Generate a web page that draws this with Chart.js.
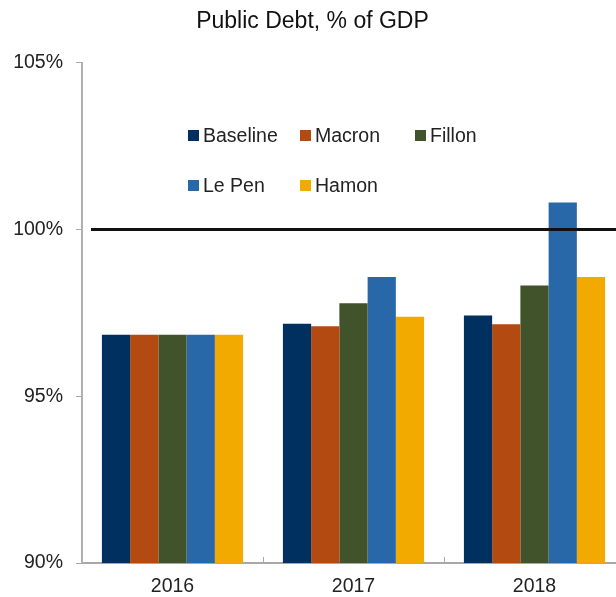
<!DOCTYPE html>
<html>
<head>
<meta charset="utf-8">
<script src="https://cdn.jsdelivr.net/npm/chart.js@4"></script>
<style>
  html, body { margin: 0; padding: 0; overflow: hidden; background: #fff; }
  #wrap { position: relative; width: 630px; height: 597px; }
  .leg { position: absolute; font-family: "Liberation Sans", Arial, sans-serif; font-size: 19.5px; color: #222; white-space: nowrap; line-height: 24px; }
  .leg span { display: inline-block; width: 11px; height: 11px; margin-right: 4px; vertical-align: 1px; }
</style>
</head>
<body>
<div id="wrap">
  <canvas id="myChart" width="630" height="597"></canvas>
</div>
<script>
var years = ["2016", "2017", "2018"];
var seriesNames = ["Baseline", "Macron", "Fillon", "Le Pen", "Hamon"];
var baseline = [96.84, 97.17, 97.42];
var macron = [96.84, 97.10, 97.16];
var fillon = [96.84, 97.79, 98.32];
var lePen = [96.84, 98.57, 100.81];
var hamon = [96.84, 97.38, 98.57];
var yTicks = [90, 95, 100, 105];
var refLine = 100;

var colors = ["#00305f", "#b34a11", "#40532a", "#2868a8", "#f2aa00"];
var values = [baseline, macron, fillon, lePen, hamon];

// legend positions inside the plot (two rows, like the original)
var legendPos = [[188, 123], [300, 123], [415, 123], [188, 173], [300, 173]];
seriesNames.forEach(function (name, i) {
    var d = document.createElement("div");
    d.className = "leg";
    d.style.left = legendPos[i][0] + "px";
    d.style.top = legendPos[i][1] + "px";
    d.innerHTML = '<span style="background:' + colors[i] + '"></span>' + name;
    document.getElementById("wrap").appendChild(d);
});

var extras = {
    id: "extras",
    afterDatasetsDraw: function (chart) {
        var ctx = chart.ctx, x = chart.scales.x, y = chart.scales.y;
        // 100% reference line
        var py = y.getPixelForValue(refLine);
        ctx.save();
        ctx.strokeStyle = "#111";
        ctx.lineWidth = 3;
        ctx.beginPath();
        ctx.moveTo(91, py);
        ctx.lineTo(chart.chartArea.right, py);
        ctx.stroke();
        // small x ticks between categories, pointing up
        ctx.strokeStyle = "#a8a8a8";
        ctx.lineWidth = 1;
        for (var i = 1; i < years.length; i++) {
            var px = Math.round((x.getPixelForValue(i - 1) + x.getPixelForValue(i)) / 2) + 0.5;
            ctx.beginPath();
            ctx.moveTo(px, chart.chartArea.bottom);
            ctx.lineTo(px, chart.chartArea.bottom - 6);
            ctx.stroke();
        }
        ctx.restore();
    }
};

new Chart("myChart", {
    type: "bar",
    data: {
        labels: years,
        datasets: seriesNames.map(function (name, i) {
            return {
                label: name,
                data: values[i],
                backgroundColor: colors[i],
                borderWidth: 0,
                categoryPercentage: 0.78,
                barPercentage: 1
            };
        })
    },
    options: {
        responsive: false,
        animation: false,
        layout: { padding: { left: 0, right: 5, top: 0, bottom: 0 } },
        plugins: {
            legend: { display: false },
            tooltip: { enabled: false },
            title: {
                display: true,
                text: "Public Debt, % of GDP",
                color: "#111",
                font: { family: "Liberation Sans", size: 23, weight: "normal" },
                padding: { top: 8, bottom: 27 }
            }
        },
        scales: {
            x: {
                grid: { display: false, drawTicks: false },
                border: { color: "#a8a8a8", width: 2 },
                ticks: { color: "#222", font: { family: "Liberation Sans", size: 19.5 }, padding: 12 },
                afterFit: function (s) { s.height = 34; }
            },
            y: {
                min: 90,
                max: 105,
                afterBuildTicks: function (s) { s.ticks = yTicks.map(function (v) { return { value: v }; }); },
                grid: { drawOnChartArea: false, tickLength: 6, color: "#a8a8a8", tickWidth: 1 },
                border: { color: "#b0b0b0", width: 2 },
                ticks: {
                    color: "#222",
                    padding: 13,
                    font: { family: "Liberation Sans", size: 19.5 },
                    callback: function (v) { return v + "%"; }
                },
                afterFit: function (s) { s.width = 82; }
            }
        }
    },
    plugins: [extras]
});
</script>
</body>
</html>
